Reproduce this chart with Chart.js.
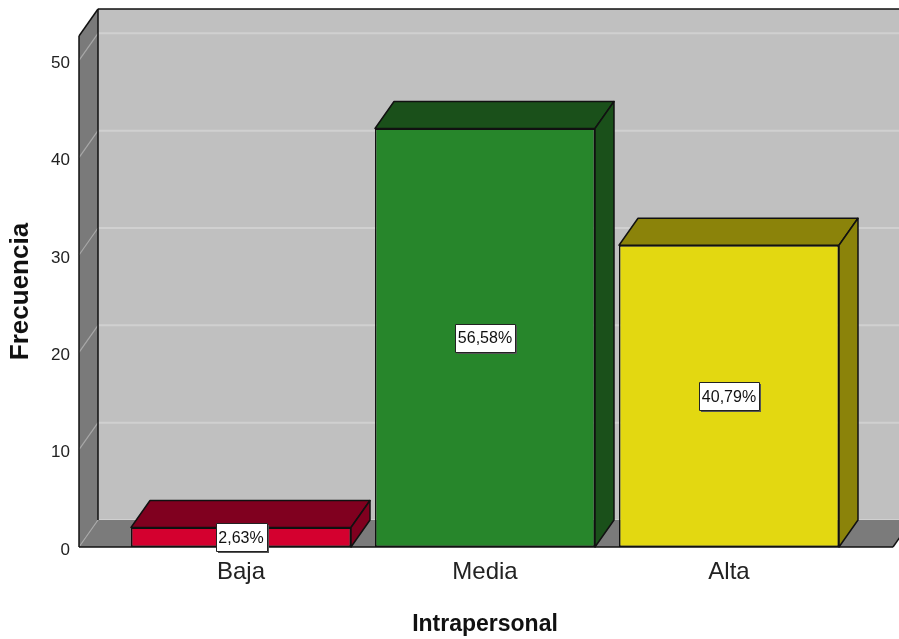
<!DOCTYPE html>
<html>
<head>
<meta charset="utf-8">
<script src="https://cdn.jsdelivr.net/npm/chart.js@4.4.1/dist/chart.umd.min.js"></script>
<style>
  html, body { margin: 0; padding: 0; background: #fff; }
  canvas { display: block; }
</style>
</head>
<body>
<canvas id="freq-chart" width="899" height="639"></canvas>
<script>
'use strict';

const categories = ['Baja', 'Media', 'Alta'];
const counts = [2, 43, 31];
const yTicks = [0, 10, 20, 30, 40, 50];

const frontColors = ['#d4002f', '#27862b', '#e3d811'];
const shadeColors = ['#80001f', '#1a501a', '#8b830a'];

// depth of the 3D box
const DX = 19;
const DY = -27;
const FONT = "'Liberation Sans', Arial, sans-serif";
const TEXT = '#222222';

const total = counts.reduce((a, b) => a + b, 0);
function pctLabel(v) {
  return (v / total * 100).toFixed(2).replace('.', ',') + '%';
}

function line(ctx, x1, y1, x2, y2) {
  ctx.beginPath();
  ctx.moveTo(x1, y1);
  ctx.lineTo(x2, y2);
  ctx.stroke();
}

function poly(ctx, pts, fill) {
  ctx.beginPath();
  ctx.moveTo(pts[0][0], pts[0][1]);
  for (let i = 1; i < pts.length; i++) ctx.lineTo(pts[i][0], pts[i][1]);
  ctx.closePath();
  ctx.fillStyle = fill;
  ctx.fill();
}

// walls, floor and grid
const box3d = {
  id: 'box3d',
  beforeDatasetsDraw(chart) {
    const { ctx, chartArea: area, scales: { y } } = chart;
    const left = area.left - 40;
    const right = area.right + 42;
    const top = area.top;
    const bottom = area.bottom;
    ctx.save();
    ctx.fillStyle = '#c0c0c0';
    ctx.fillRect(left + DX, top + DY, chart.width, bottom - top);

    ctx.strokeStyle = '#d0d0d0';
    ctx.lineWidth = 2;
    yTicks.forEach(v => {
      const py = y.getPixelForValue(v) + DY;
      line(ctx, left + DX, py, chart.width, py);
    });

    poly(ctx, [[left, top], [left + DX, top + DY], [left + DX, bottom + DY], [left, bottom]], '#7a7a7a');
    poly(ctx, [[left, bottom], [left + DX, bottom + DY], [right + DX, bottom + DY], [right, bottom]], '#7b7b7b');

    ctx.strokeStyle = '#a8a8a8';
    ctx.lineWidth = 1.2;
    yTicks.forEach(v => {
      const py = y.getPixelForValue(v);
      line(ctx, left, py, left + DX, py + DY);
    });

    ctx.strokeStyle = '#111';
    ctx.lineWidth = 1.5;
    line(ctx, left, top, left, bottom);
    line(ctx, left, top, left + DX, top + DY);
    line(ctx, left + DX, top + DY, chart.width, top + DY);
    line(ctx, left + DX, top + DY, left + DX, bottom + DY);
    line(ctx, left, bottom, right, bottom);
    line(ctx, right, bottom, right + DX, bottom + DY);
    ctx.restore();
  },
  afterDatasetsDraw(chart) {
    const { ctx } = chart;
    const meta = chart.getDatasetMeta(0);
    ctx.save();
    ctx.strokeStyle = '#111';
    ctx.lineWidth = 1.5;
    ctx.lineJoin = 'round';
    meta.data.forEach((bar, i) => {
      const { x, y, base, width } = bar.getProps(['x', 'y', 'base', 'width'], true);
      const x0 = x - width / 2;
      const x1 = x + width / 2;
      const top = [[x0, y], [x0 + DX, y + DY], [x1 + DX, y + DY], [x1, y]];
      const side = [[x1, y], [x1 + DX, y + DY], [x1 + DX, base + DY], [x1, base]];
      [top, side].forEach(pts => {
        poly(ctx, pts, shadeColors[i]);
        ctx.stroke();
      });
    });

    // percentage boxes
    ctx.font = '16px ' + FONT;
    ctx.textAlign = 'center';
    ctx.textBaseline = 'middle';
    meta.data.forEach((bar, i) => {
      const { x, y, base } = bar.getProps(['x', 'y', 'base'], true);
      const cy = (y + base) / 2;
      const txt = pctLabel(counts[i]);
      const w = Math.round(ctx.measureText(txt).width) + 6;
      const h = 28;
      const bx = Math.round(x - w / 2) + 0.5;
      const by = Math.round(cy - h / 2) + 0.5;
      ctx.fillStyle = '#555';
      ctx.fillRect(bx + 1.5, by + 1.5, w, h);
      ctx.fillStyle = '#fff';
      ctx.fillRect(bx, by, w, h);
      ctx.strokeStyle = '#222';
      ctx.lineWidth = 1;
      ctx.strokeRect(bx, by, w, h);
      ctx.fillStyle = '#111';
      ctx.fillText(txt, x, cy + 1);
    });
    ctx.restore();
  },
};

new Chart(document.getElementById('freq-chart'), {
  type: 'bar',
  data: {
    labels: categories,
    datasets: [{
      data: counts,
      backgroundColor: frontColors,
      borderColor: '#111',
      borderWidth: 1.5,
      borderSkipped: false,
      barPercentage: 0.9016,
      categoryPercentage: 1,
    }],
  },
  options: {
    responsive: false,
    animation: false,
    layout: {
      padding: { top: 36, right: 48, bottom: 0, left: 0 },
    },
    plugins: {
      legend: { display: false },
      tooltip: { enabled: false },
    },
    scales: {
      x: {
        grid: { display: false, drawTicks: false },
        border: { display: false },
        ticks: {
          color: TEXT,
          padding: 11,
          font: { family: FONT, size: 24 },
        },
        title: {
          display: true,
          text: 'Intrapersonal',
          color: '#111',
          padding: { top: 0, bottom: 1 },
          font: { family: FONT, size: 23, weight: 'bold' },
        },
        afterFit(scale) { scale.height = 92; },
      },
      y: {
        min: 0,
        max: 52.5,
        grid: { display: false, drawTicks: false },
        border: { display: false },
        afterBuildTicks(scale) {
          scale.ticks = yTicks.map(v => ({ value: v }));
        },
        ticks: {
          color: TEXT,
          padding: 49,
          labelOffset: 3,
          font: { family: FONT, size: 17 },
        },
        title: {
          display: true,
          text: 'Frecuencia',
          color: '#111',
          padding: { top: 5, bottom: 0 },
          font: { family: FONT, size: 26, weight: 'bold' },
        },
        afterFit(scale) {
          // the wide tick padding is only there to push labels left of the wall
          scale.width = 119;
          scale.paddingTop = 0;
          scale.paddingBottom = 0;
        },
      },
    },
  },
  plugins: [box3d],
});
</script>
</body>
</html>
